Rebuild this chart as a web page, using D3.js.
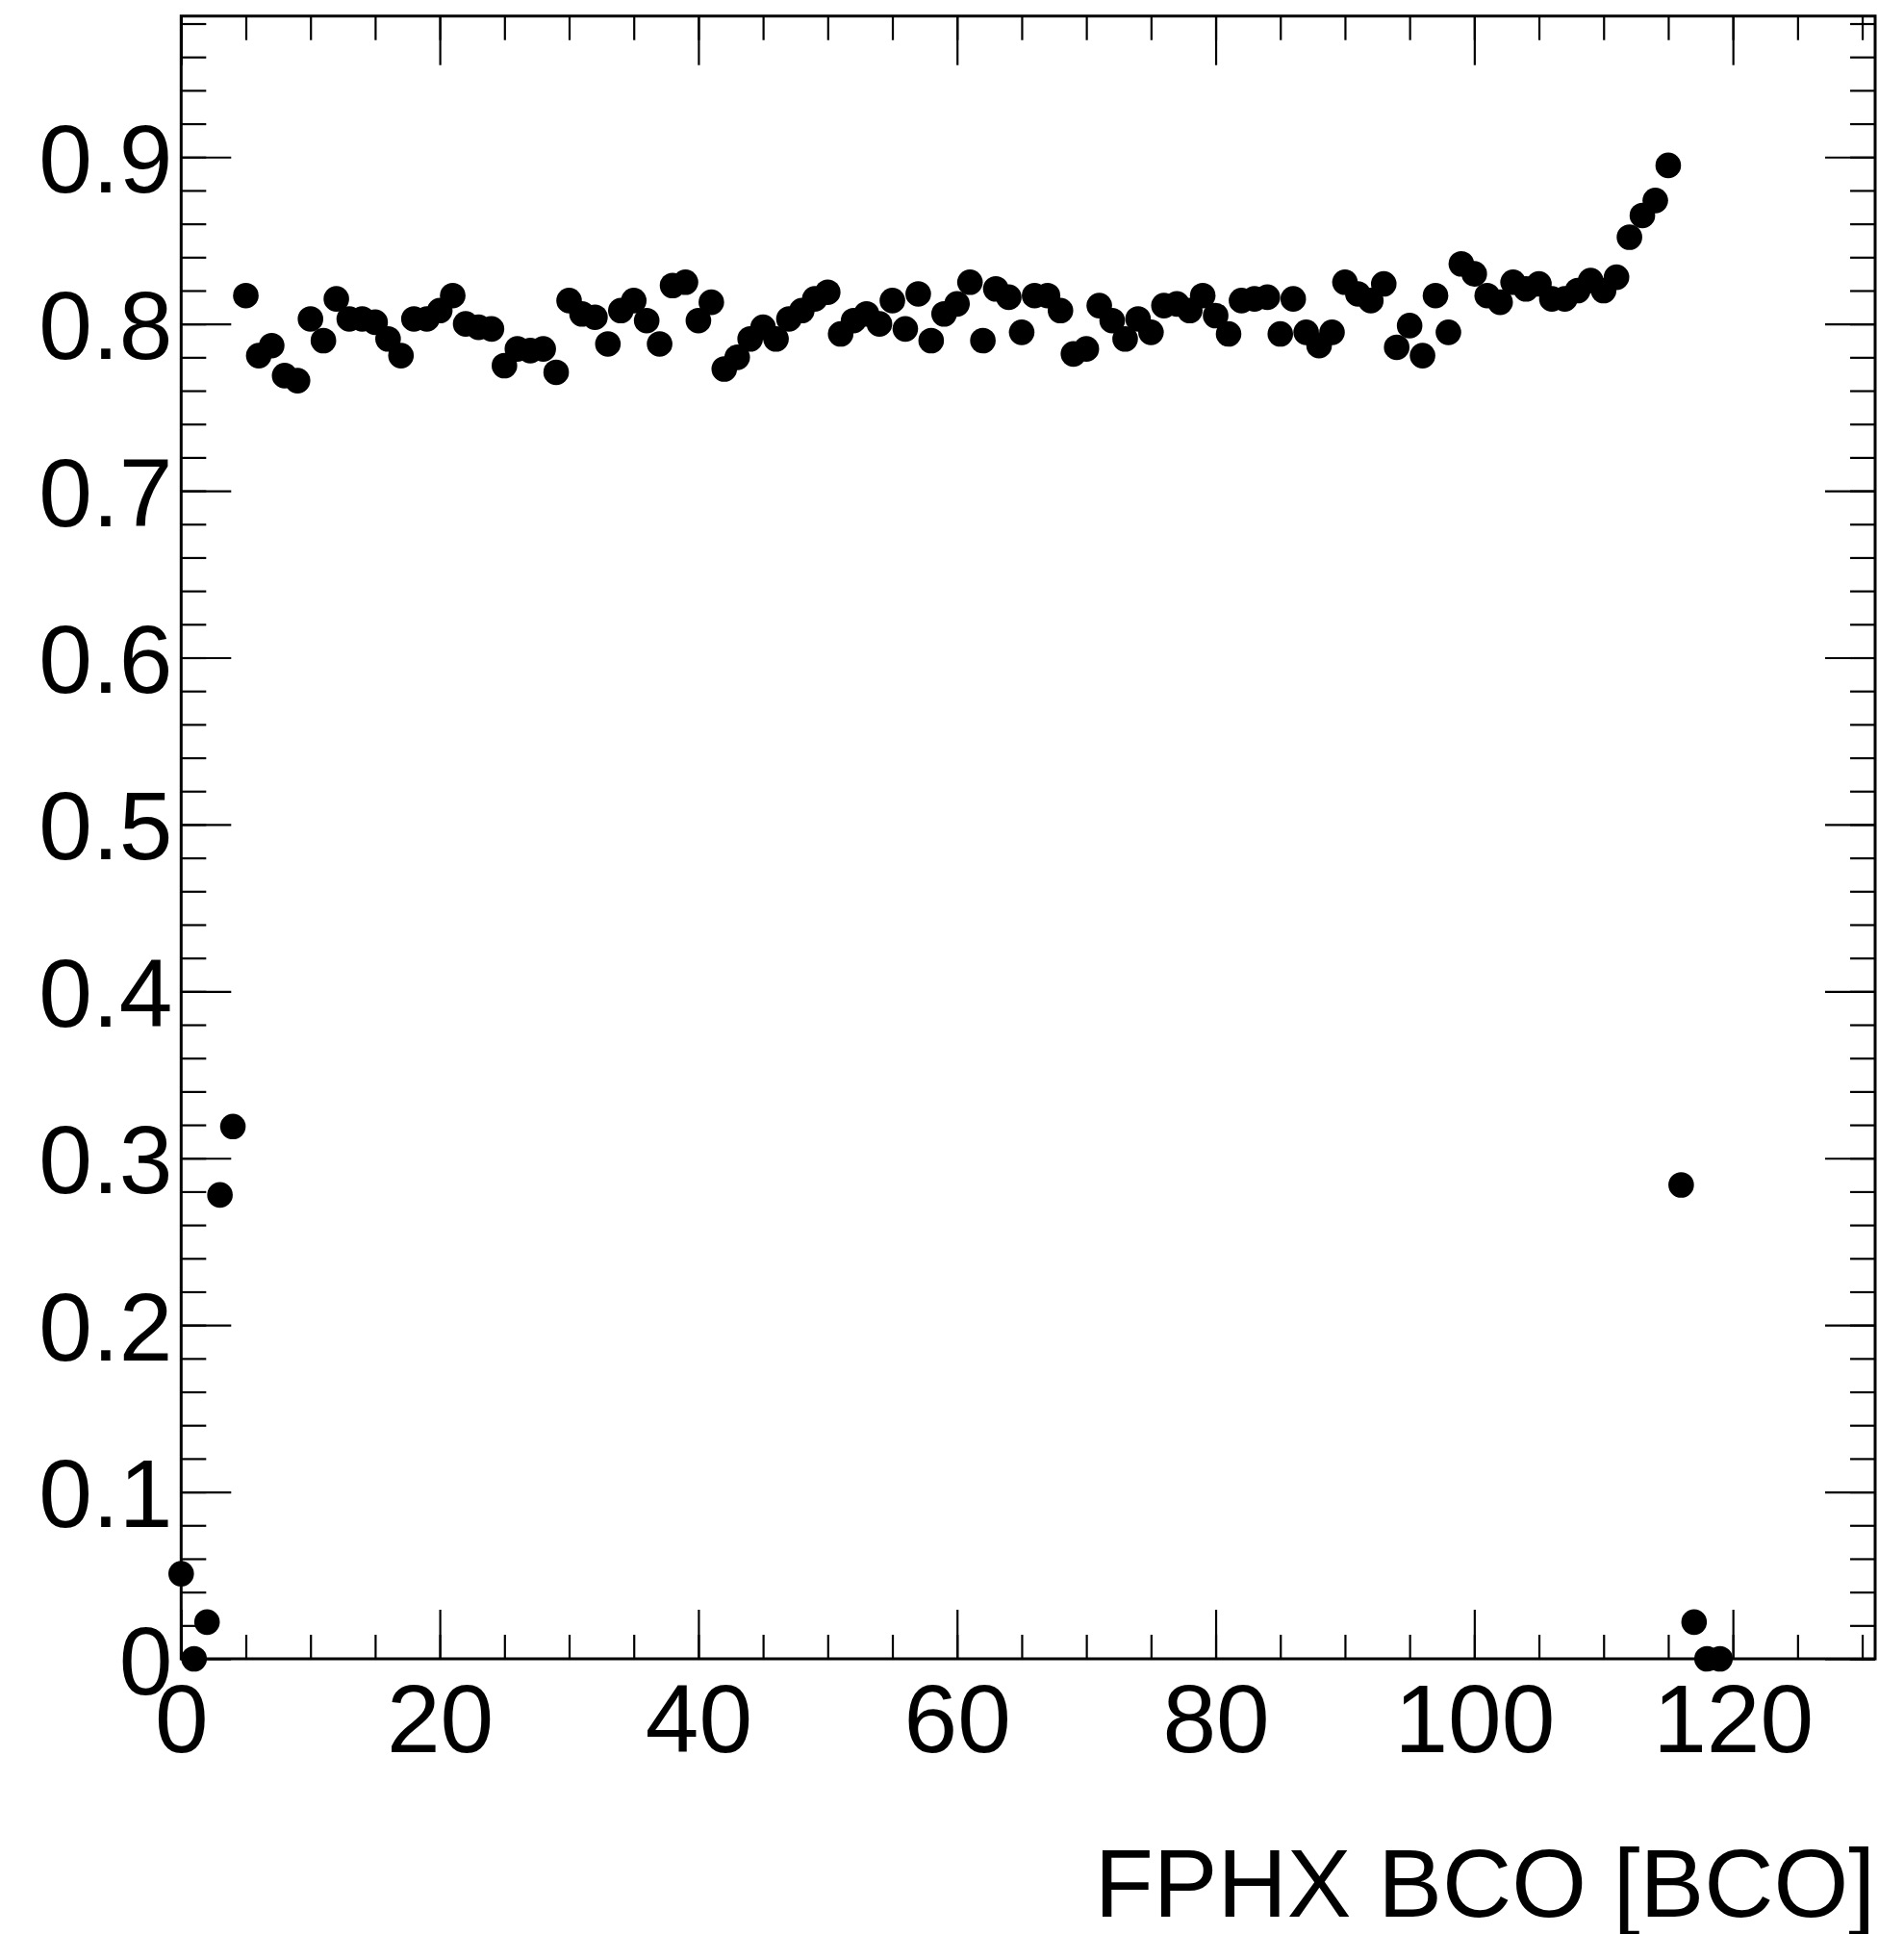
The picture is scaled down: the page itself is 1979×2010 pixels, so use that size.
<!DOCTYPE html>
<html>
<head>
<meta charset="utf-8">
<script src="https://cdn.jsdelivr.net/npm/d3@7"></script>
<style>
  body { margin: 0; background: #fff; }
  svg text { font-family: "Liberation Sans", Arial, Helvetica, sans-serif; fill: #000; }
  .tick line { stroke: #000; stroke-width: 2.2; }
  .domain { display: none; }
</style>
</head>
<body>
<svg id="chart" width="1979" height="2010"></svg>
<script>
// ------------------------------
// data: one point per FPHX BCO
// ------------------------------
var bco = [0, 1, 2, 3, 4, 5, 6, 7, 8, 9,
           10, 11, 12, 13, 14, 15, 16, 17, 18, 19,
           20, 21, 22, 23, 24, 25, 26, 27, 28, 29,
           30, 31, 32, 33, 34, 35, 36, 37, 38, 39,
           40, 41, 42, 43, 44, 45, 46, 47, 48, 49,
           50, 51, 52, 53, 54, 55, 56, 57, 58, 59,
           60, 61, 62, 63, 64, 65, 66, 67, 68, 69,
           70, 71, 72, 73, 74, 75, 76, 77, 78, 79,
           80, 81, 82, 83, 84, 85, 86, 87, 88, 89,
           90, 91, 92, 93, 94, 95, 96, 97, 98, 99,
           100, 101, 102, 103, 104, 105, 106, 107, 108, 109,
           110, 111, 112, 113, 114, 115, 116, 117, 118, 119];

var ratio = [0.051, 0.000, 0.022, 0.278, 0.319, 0.817, 0.781, 0.787, 0.769, 0.766,
             0.803, 0.790, 0.815, 0.803, 0.803, 0.801, 0.791, 0.781, 0.803, 0.803,
             0.808, 0.817, 0.800, 0.798, 0.797, 0.775, 0.785, 0.784, 0.785, 0.771,
             0.814, 0.806, 0.804, 0.788, 0.808, 0.814, 0.802, 0.788, 0.823, 0.825,
             0.802, 0.813, 0.773, 0.780, 0.791, 0.798, 0.791, 0.803, 0.808, 0.815,
             0.819, 0.794, 0.802, 0.806, 0.800, 0.814, 0.797, 0.818, 0.790, 0.806,
             0.812, 0.825, 0.790, 0.821, 0.816, 0.795, 0.817, 0.817, 0.808, 0.782,
             0.785, 0.811, 0.802, 0.791, 0.803, 0.795, 0.811, 0.812, 0.808, 0.817,
             0.805, 0.794, 0.814, 0.815, 0.816, 0.794, 0.815, 0.795, 0.787, 0.795,
             0.825, 0.818, 0.814, 0.824, 0.786, 0.799, 0.781, 0.817, 0.795, 0.836,
             0.830, 0.817, 0.813, 0.825, 0.821, 0.824, 0.815, 0.815, 0.820, 0.826,
             0.820, 0.828, 0.852, 0.865, 0.874, 0.895, 0.284, 0.022, 0.000, 0.000];

// axis ticks (major ones get a label)
var xMajor = [0, 20, 40, 60, 80, 100, 120];
var xMinor = [0, 5, 10, 15, 20, 25, 30, 35, 40, 45, 50, 55, 60, 65,
              70, 75, 80, 85, 90, 95, 100, 105, 110, 115, 120, 125, 130];
var yMajor = [0, 0.1, 0.2, 0.3, 0.4, 0.5, 0.6, 0.7, 0.8, 0.9];
var yMinor = d3.range(0, 0.981, 0.02);

var xTitle = "FPHX BCO [BCO]";

// ------------------------------
// frame  (note: "top" is taken by window.top, so use a box object)
// ------------------------------
var box = {left: 188.3, right: 1949, top: 16.7, bottom: 1724};

var svg = d3.select("#chart");

var x = d3.scaleLinear().domain([0, 131]).range([box.left, box.right]);
var y = d3.scaleLinear().domain([0, 0.9845]).range([box.bottom, box.top]);

// helper that draws one set of ticks; negative size = ticks pointing into the frame
function drawAxis(axis, tx, ty, labelled) {
    var g = svg.append("g")
        .attr("transform", "translate(" + tx + "," + ty + ")")
        .call(axis);
    if (!labelled) g.selectAll("text").remove();
    return g;
}

var yFmt = function (d) { return d === 0 ? "0" : d3.format(".1f")(d); };

// left
drawAxis(d3.axisLeft(y).tickValues(yMinor).tickSize(-26).tickFormat(""), box.left, 0, false);
var gl = drawAxis(d3.axisLeft(y).tickValues(yMajor).tickSize(-52).tickPadding(9).tickFormat(yFmt), box.left, 0, true);
gl.selectAll("text").attr("font-size", 100).attr("dy", "0.36em");

// right (mirror, no labels)
drawAxis(d3.axisRight(y).tickValues(yMinor).tickSize(-26), box.right, 0, false);
drawAxis(d3.axisRight(y).tickValues(yMajor).tickSize(-52), box.right, 0, false);

// bottom
drawAxis(d3.axisBottom(x).tickValues(xMinor).tickSize(-25).tickFormat(""), 0, box.bottom, false);
var gb = drawAxis(d3.axisBottom(x).tickValues(xMajor).tickSize(-51).tickPadding(0).tickFormat(d3.format("d")), 0, box.bottom, true);
gb.selectAll("text").attr("font-size", 100).attr("y", 0).attr("dy", 97);

// top (mirror, no labels)
drawAxis(d3.axisTop(x).tickValues(xMinor).tickSize(-25), 0, box.top, false);
drawAxis(d3.axisTop(x).tickValues(xMajor).tickSize(-51), 0, box.top, false);

svg.append("rect")
    .attr("x", box.left).attr("y", box.top)
    .attr("width", box.right - box.left).attr("height", box.bottom - box.top)
    .attr("fill", "none").attr("stroke", "#000").attr("stroke-width", 3);

// ------------------------------
// markers
// ------------------------------
svg.append("g").selectAll("circle")
    .data(bco)
  .enter().append("circle")
    .attr("cx", function (d) { return x(d); })
    .attr("cy", function (d, i) { return y(ratio[i]); })
    .attr("r", 13.3)
    .attr("fill", "#000");

// axis title, right aligned to the frame
svg.append("text")
    .attr("x", box.right)
    .attr("y", 1992)
    .attr("text-anchor", "end")
    .attr("font-size", 100)
    .text(xTitle);
</script>
</body>
</html>
